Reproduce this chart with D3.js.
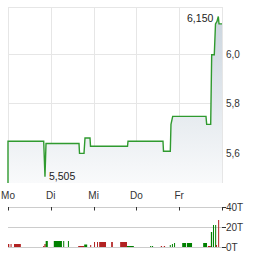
<!DOCTYPE html>
<html>
<head>
<meta charset="utf-8">
<script src="https://cdn.jsdelivr.net/npm/d3@7"></script>
<style>
  body { margin: 0; background: #fff; }
  svg { display: block; font-family: "Liberation Sans", Arial, sans-serif; }
</style>
</head>
<body>
<svg id="chart" width="264" height="255"></svg>
<script>
// time is in trading days since Monday open (0 = Mo, 5 = end of Fr)
let dayLabels = ["Mo", "Di", "Mi", "Do", "Fr"];
let priceTicks = [5.6, 5.8, 6.0];
let volumeTicks = [0, 20, 40];

let priceTimes = [0, 0, 0.834, 0.864, 0.888, 1.659, 1.671, 1.776, 1.799, 1.916, 1.928,
  2.792, 2.804, 3.621, 3.633, 3.792, 3.808, 3.848, 4.626, 4.642, 4.736, 4.759,
  4.82, 4.848, 4.883, 4.914, 4.93, 5.0];
let priceValues = [5.48, 5.648, 5.648, 5.505, 5.639, 5.639, 5.599, 5.599, 5.661, 5.661, 5.628,
  5.628, 5.648, 5.648, 5.608, 5.608, 5.716, 5.748, 5.748, 5.716, 5.716, 5.996,
  5.996, 6.12, 6.13, 6.15, 6.12, 6.12];

// volume bars: start, end (days), volume in thousands, up (1) / down (0)
let volStart = [0.0, 0.06, 0.14, 0.82, 0.85, 0.88, 1.07, 1.29, 1.40, 1.64, 1.78, 1.92, 2.01,
  2.08, 2.13, 2.41, 2.62, 2.78, 3.32, 3.36, 3.57, 3.64, 3.78, 3.83, 3.88, 4.07, 4.18,
  4.56, 4.67, 4.74, 4.79, 4.84, 4.86, 4.91];
let volEnd = [0.03, 0.08, 0.30, 0.85, 0.88, 0.93, 1.26, 1.31, 1.42, 1.78, 1.85, 1.94, 2.03,
  2.10, 2.29, 2.45, 2.78, 2.94, 3.34, 3.39, 3.60, 3.67, 3.80, 3.85, 3.90, 4.16, 4.30,
  4.65, 4.74, 4.77, 4.81, 4.86, 4.88, 4.93];
let volValues = [3, 3, 3, 1, 3, 6, 6, 6, 6, 1, 2.5, 2, 5, 5, 5, 5, 5, 1, 1, 1, 1, 1, 2, 3, 4,
  4, 4, 4, 1, 15, 22, 22, 2, 27];
let volUp = [0, 0, 0, 0, 0, 1, 1, 1, 1, 0, 1, 0, 0, 0, 0, 0, 0, 1, 1, 1, 0, 0, 1, 1, 1, 1, 1,
  1, 0, 1, 1, 1, 0, 0];

let svg = d3.select("#chart");

let plotLeft = 8, plotRight = 222, plotTop = 7, plotBottom = 183;

let x = d3.scaleLinear().domain([0, 5]).range([plotLeft, plotRight]);
let y = d3.scaleLinear().domain([5.48, 6.188]).range([plotBottom, plotTop]);
let yVol = d3.scaleLinear().domain([0, 40]).range([247, 207]);

let fmt = (v) => v.toFixed(1).replace(".", ",");

// gradient for area
let grad = svg.append("defs").append("linearGradient")
  .attr("id", "areaGrad")
  .attr("gradientUnits", "userSpaceOnUse")
  .attr("x1", 0).attr("x2", 0)
  .attr("y1", plotTop).attr("y2", plotBottom);
grad.append("stop").attr("offset", "0%").attr("stop-color", "#c8d3dd");
grad.append("stop").attr("offset", "100%").attr("stop-color", "#f9fafb");

// grid
svg.append("g")
  .selectAll("line")
  .data(d3.range(0, 6))
  .enter()
  .append("line")
  .attr("x1", (d) => Math.round(x(d)) + 0.5).attr("x2", (d) => Math.round(x(d)) + 0.5)
  .attr("y1", plotTop).attr("y2", plotBottom)
  .attr("stroke", "#e6e6e6");

svg.append("g")
  .selectAll("line")
  .data(priceTicks)
  .enter()
  .append("line")
  .attr("x1", plotLeft).attr("x2", plotRight)
  .attr("y1", (d) => Math.round(y(d)) + 0.5).attr("y2", (d) => Math.round(y(d)) + 0.5)
  .attr("stroke", "#e6e6e6");

svg.append("line")
  .attr("x1", plotLeft).attr("x2", plotRight)
  .attr("y1", plotTop + 0.5).attr("y2", plotTop + 0.5)
  .attr("stroke", "#e6e6e6");

let points = priceTimes.map((t, i) => [t, priceValues[i]]);

let area = d3.area()
  .x((d) => x(d[0]))
  .y0(plotBottom)
  .y1((d) => y(d[1]));

svg.append("path")
  .datum(points)
  .attr("d", area)
  .attr("fill", "url(#areaGrad)");

let line = d3.line()
  .x((d) => x(d[0]))
  .y((d) => y(d[1]));

svg.append("path")
  .datum(points)
  .attr("d", line)
  .attr("fill", "none")
  .attr("stroke", "#2f9a2f")
  .attr("stroke-width", 1.4);

// price labels on the right
svg.append("g")
  .selectAll("text")
  .data(priceTicks)
  .enter()
  .append("text")
  .attr("x", 226)
  .attr("y", (d) => y(d) + 4)
  .attr("font-size", 10)
  .attr("fill", "#333")
  .text(fmt);

// min / max annotations
svg.append("text")
  .attr("x", x(0.864) + 4)
  .attr("y", y(5.505) + 3)
  .attr("font-size", 10.5)
  .attr("fill", "#222")
  .text("5,505");

svg.append("text")
  .attr("x", x(4.914) - 5)
  .attr("y", y(6.15) + 6)
  .attr("text-anchor", "end")
  .attr("font-size", 10.5)
  .attr("fill", "#222")
  .text("6,150");

// day labels
svg.append("g")
  .selectAll("text")
  .data(dayLabels)
  .enter()
  .append("text")
  .attr("x", (d, i) => x(i))
  .attr("y", 198.5)
  .attr("text-anchor", "middle")
  .attr("font-size", 10)
  .attr("fill", "#333")
  .text((d) => d);

// volume grid
svg.append("g")
  .selectAll("line")
  .data(volumeTicks)
  .enter()
  .append("line")
  .attr("x1", plotLeft).attr("x2", plotRight)
  .attr("y1", (d) => yVol(d) + 0.5).attr("y2", (d) => yVol(d) + 0.5)
  .attr("stroke", "#cccccc");

svg.append("g")
  .selectAll("line")
  .data(d3.range(0, 5))
  .enter()
  .append("line")
  .attr("x1", (d) => Math.round(x(d)) + 0.5).attr("x2", (d) => Math.round(x(d)) + 0.5)
  .attr("y1", yVol(40)).attr("y2", yVol(40) + 3.5)
  .attr("stroke", "#333");

svg.append("line")
  .attr("x1", plotRight + 0.5).attr("x2", plotRight + 0.5)
  .attr("y1", yVol(40)).attr("y2", yVol(40) + 3.5)
  .attr("stroke", "#333");

svg.append("g")
  .selectAll("line")
  .data(volumeTicks)
  .enter()
  .append("line")
  .attr("x1", plotRight).attr("x2", plotRight + 4)
  .attr("y1", (d) => yVol(d) + 0.5).attr("y2", (d) => yVol(d) + 0.5)
  .attr("stroke", "#333");

svg.append("g")
  .selectAll("text")
  .data(volumeTicks)
  .enter()
  .append("text")
  .attr("x", 226)
  .attr("y", (d) => yVol(d) + 4)
  .attr("font-size", 10)
  .attr("fill", "#333")
  .text((d) => d + "T");

// volume bars
svg.append("g")
  .selectAll("rect")
  .data(volValues)
  .enter()
  .append("rect")
  .attr("x", (d, i) => x(volStart[i]))
  .attr("width", (d, i) => Math.max(1, x(volEnd[i]) - x(volStart[i])))
  .attr("y", (d) => yVol(d))
  .attr("height", (d) => yVol(0) - yVol(d))
  .attr("fill", (d, i) => (volUp[i] ? "#008000" : "#b22222"));
</script>
</body>
</html>
